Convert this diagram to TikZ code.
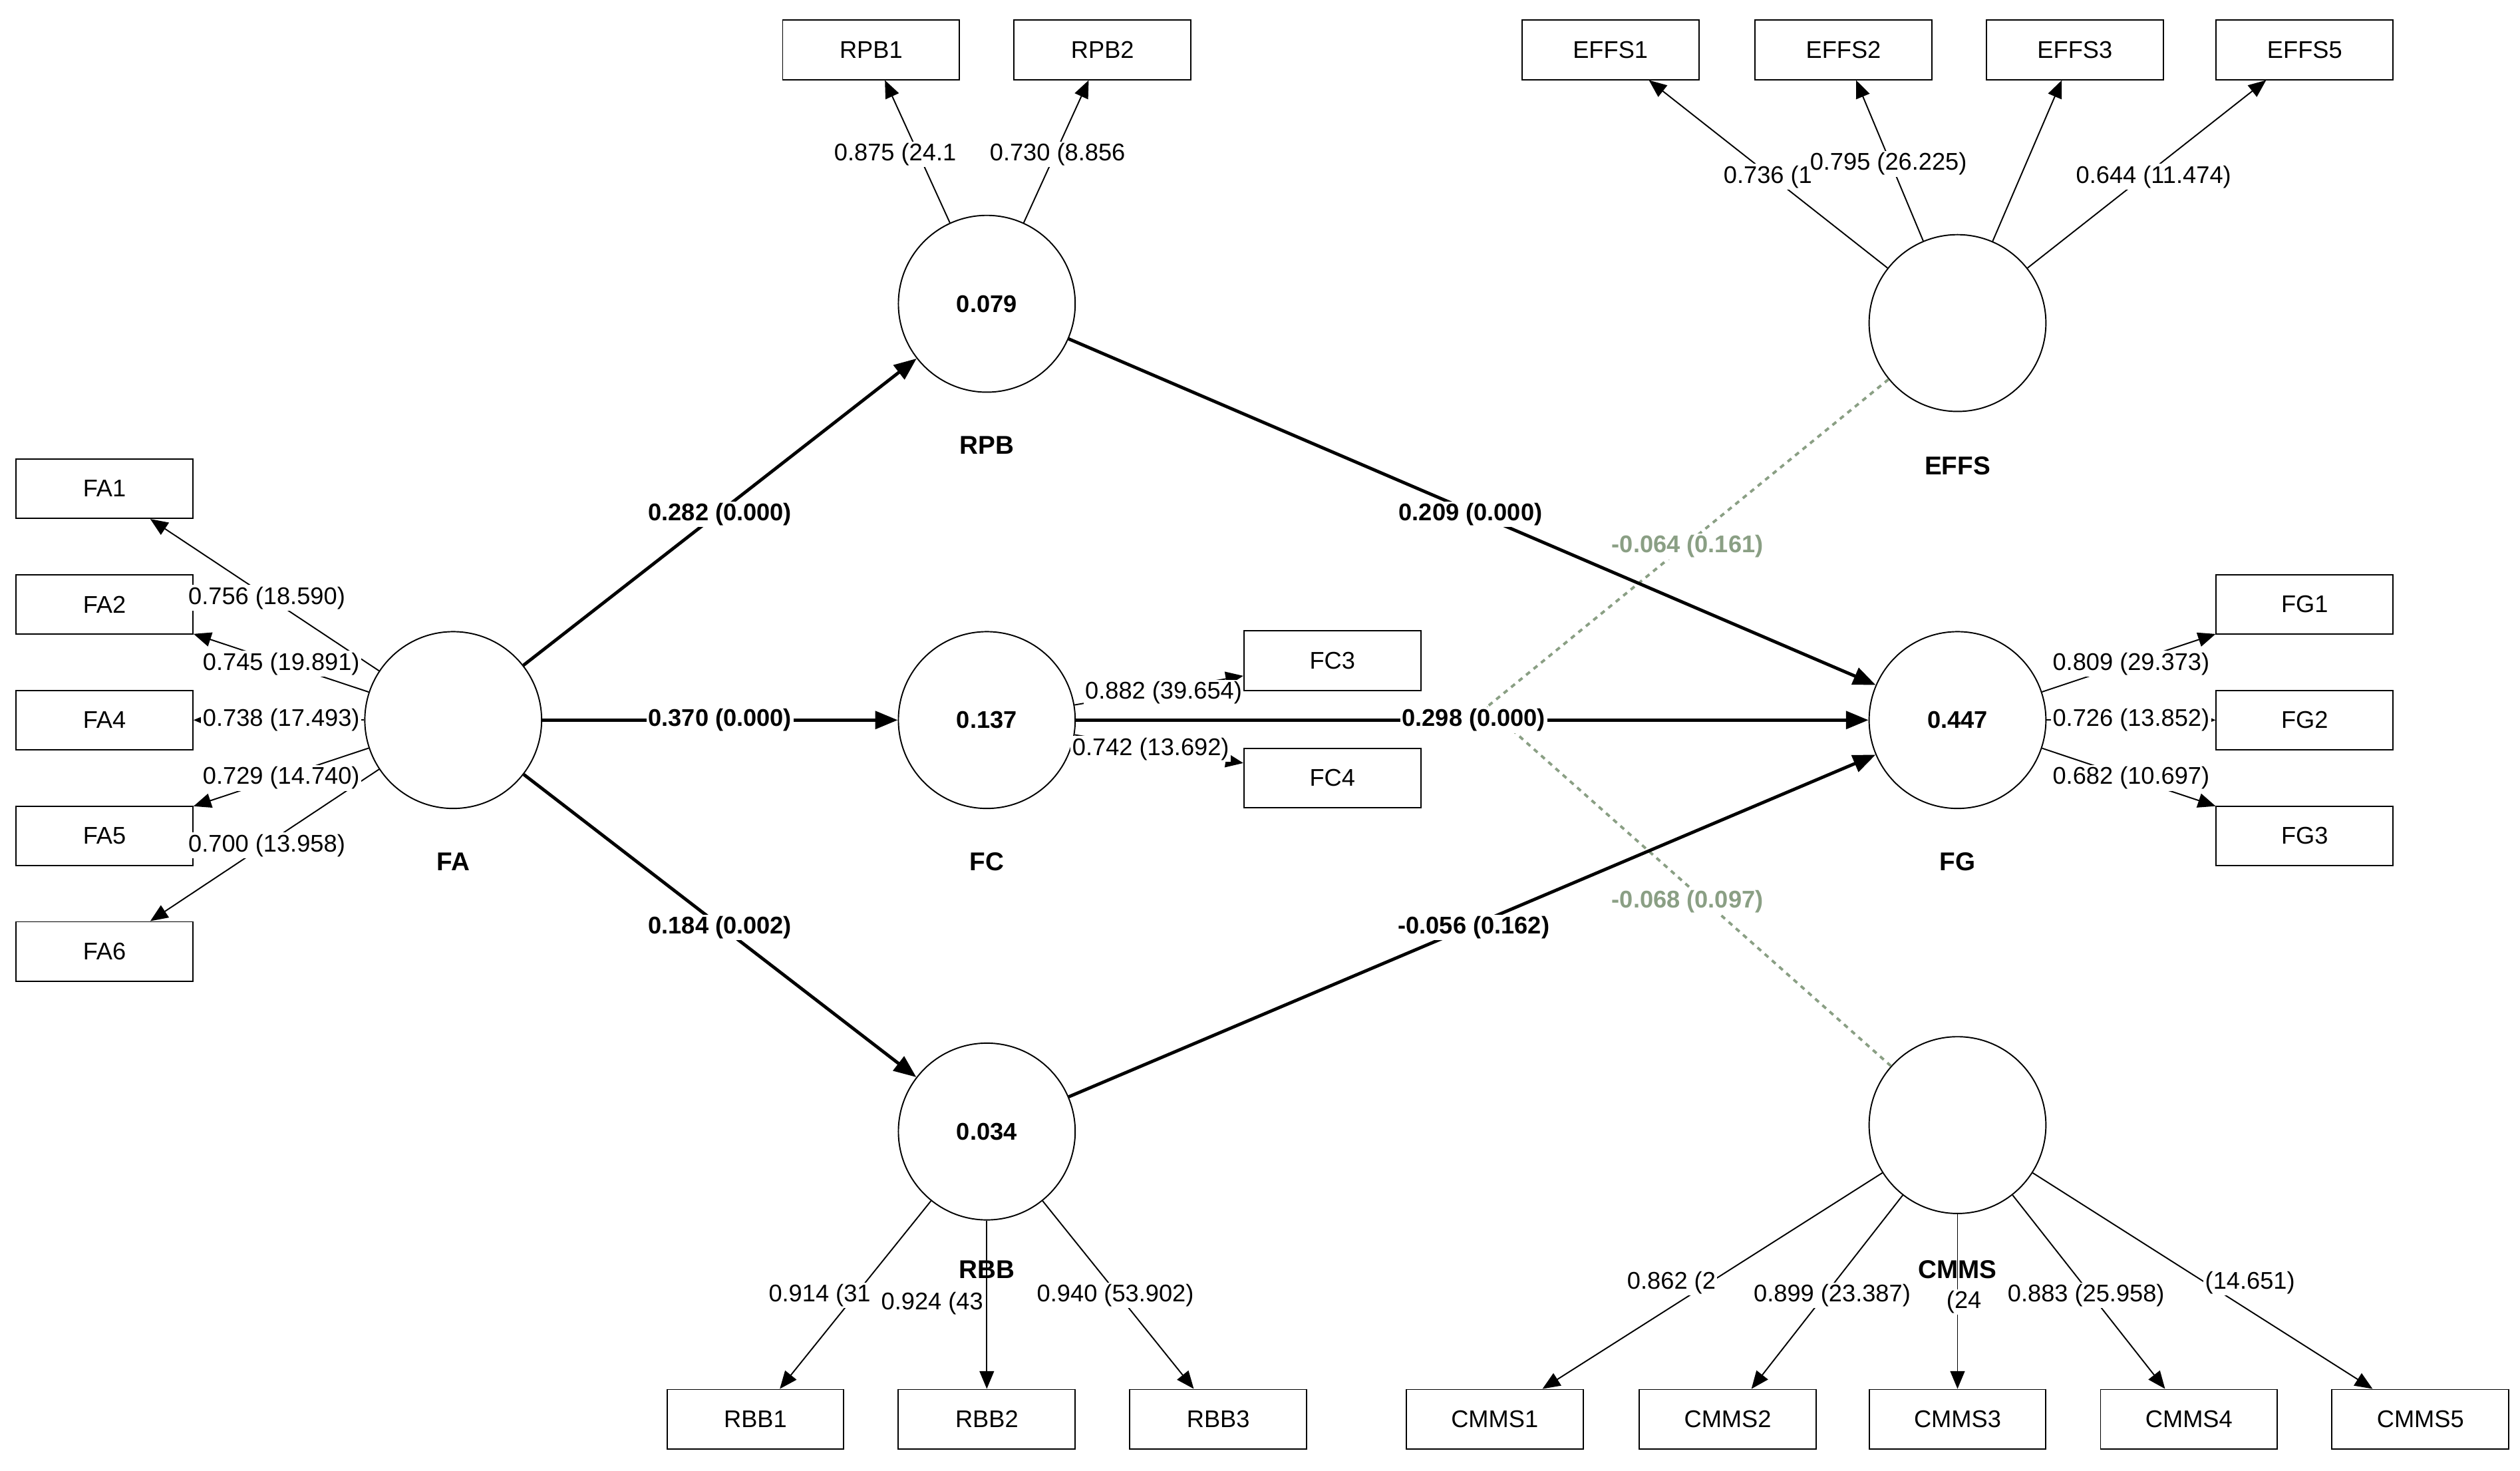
\documentclass[tikz,border=0pt]{standalone}
\usepackage{fontspec}
\setmainfont{Liberation Sans}
\usetikzlibrary{arrows.meta}
\definecolor{modg}{HTML}{8A9F84}
\begin{document}
\begin{tikzpicture}[x=1pt,y=-1pt,
 lv/.style={circle,draw,line width=0.8pt,minimum size=110pt,inner sep=0pt,font=\fontsize{15}{18}\selectfont\bfseries},
 ind/.style={draw,line width=0.8pt,minimum width=110pt,minimum height=37pt,inner sep=0pt,font=\fontsize{15}{18}\selectfont},
 nm/.style={font=\fontsize{16}{18}\selectfont\bfseries},
 ld/.style={fill=white,inner sep=1pt,font=\fontsize{15}{18}\selectfont},
 pl/.style={fill=white,inner sep=1pt,font=\fontsize{15}{18}\selectfont\bfseries},
 gl/.style={fill=white,inner sep=1pt,text=modg,font=\fontsize{15}{18}\selectfont\bfseries},
 outarr/.style={-{Triangle[length=11pt,width=9pt]},line width=0.8pt},
 patharr/.style={-{Triangle[length=14pt,width=11pt]},line width=2pt},
 modarr/.style={dashed,line width=1.6pt,draw=modg}]
\useasboundingbox (0,0) rectangle (1568,915);
% latent
\node[lv] (FA) at (282,448) {};
\node[lv] (RPB) at (614,189) {0.079};
\node[lv] (FC) at (614,448) {0.137};
\node[lv] (RBB) at (614,704) {0.034};
\node[lv] (FG) at (1218,448) {0.447};
\node[lv] (EFFS) at (1218,201) {};
\node[lv] (CMMS) at (1218,700) {};
% indicators
\foreach \n/\x/\y in {FA1/65/304,FA2/65/376,FA4/65/448,FA5/65/520,FA6/65/592,
 RPB1/542/31,RPB2/686/31,EFFS1/1002/31,EFFS2/1147/31,EFFS3/1291/31,EFFS5/1434/31,
 FC3/829/411,FC4/829/484,FG1/1434/376,FG2/1434/448,FG3/1434/520,
 RBB1/470/883,RBB2/614/883,RBB3/758/883,
 CMMS1/930/883,CMMS2/1075/883,CMMS3/1218/883,CMMS4/1362/883,CMMS5/1506/883}
 \node[ind] (\n) at (\x,\y) {\n};
% outer arrows
\foreach \a/\b in {FA/FA1,FA/FA2,FA/FA4,FA/FA5,FA/FA6,RPB/RPB1,RPB/RPB2,
 EFFS/EFFS1,EFFS/EFFS2,EFFS/EFFS3,EFFS/EFFS5,FC/FC3,FC/FC4,FG/FG1,FG/FG2,FG/FG3,
 RBB/RBB1,RBB/RBB2,RBB/RBB3,CMMS/CMMS1,CMMS/CMMS2,CMMS/CMMS3,CMMS/CMMS4,CMMS/CMMS5}
 \draw[outarr] (\a) -- (\b);
% moderation
\coordinate (m) at (925,440);
\draw[modarr] (EFFS) -- (m);
\draw[modarr] (CMMS) -- (m);
% paths
\draw[patharr] (FA) -- (RPB);
\draw[patharr] (FA) -- (FC);
\draw[patharr] (FA) -- (RBB);
\draw[patharr] (RPB) -- (FG);
\draw[patharr] (FC) -- (FG);
\draw[patharr] (RBB) -- (FG);
\node[pl] at (448,320) {0.282 (0.000)};
\node[pl] at (448,448) {0.370 (0.000)};
\node[pl] at (448,577) {0.184 (0.002)};
\node[pl] at (915,320) {0.209 (0.000)};
\node[pl] at (917,448) {0.298 (0.000)};
\node[pl] at (917,577) {-0.056 (0.162)};
\node[gl] at (1050,340) {-0.064 (0.161)};
\node[gl] at (1050,561) {-0.068 (0.097)};
% loadings
\node[ld] at (166,372) {0.756 (18.590)};
\node[ld] at (175,413) {0.745 (19.891)};
\node[ld] at (175,448) {0.738 (17.493)};
\node[ld] at (175,484) {0.729 (14.740)};
\node[ld] at (166,526) {0.700 (13.958)};
\node[ld] at (557,96) {0.875 (24.1};
\node[ld] at (658,96) {0.730 (8.856};
\node[ld] at (1100,110) {0.736 (1};
\node[ld] at (1175,102) {0.795 (26.225)};
\node[ld] at (1340,110) {0.644 (11.474)};
\node[ld] at (724,431) {0.882 (39.654)};
\node[ld] at (716,466) {0.742 (13.692)};
\node[ld] at (1326,413) {0.809 (29.373)};
\node[ld] at (1326,448) {0.726 (13.852)};
\node[ld] at (1326,484) {0.682 (10.697)};
\node[ld] at (510,806) {0.914 (31};
\node[ld] at (580,811) {0.924 (43};
\node[ld] at (694,806) {0.940 (53.902)};
\node[ld] at (1040,798) {0.862 (2};
\node[ld] at (1222,810) {(24};
\node[ld] at (1140,806) {0.899 (23.387)};
\node[ld] at (1400,798) {(14.651)};
\node[ld] at (1298,806) {0.883 (25.958)};
% names
\node[nm] at (282,536) {FA};
\node[nm] at (614,277) {RPB};
\node[nm] at (614,536) {FC};
\node[nm] at (614,790) {RBB};
\node[nm] at (1218,536) {FG};
\node[nm] at (1218,290) {EFFS};
\node[nm] at (1218,790) {CMMS};
\end{tikzpicture}
\end{document}
